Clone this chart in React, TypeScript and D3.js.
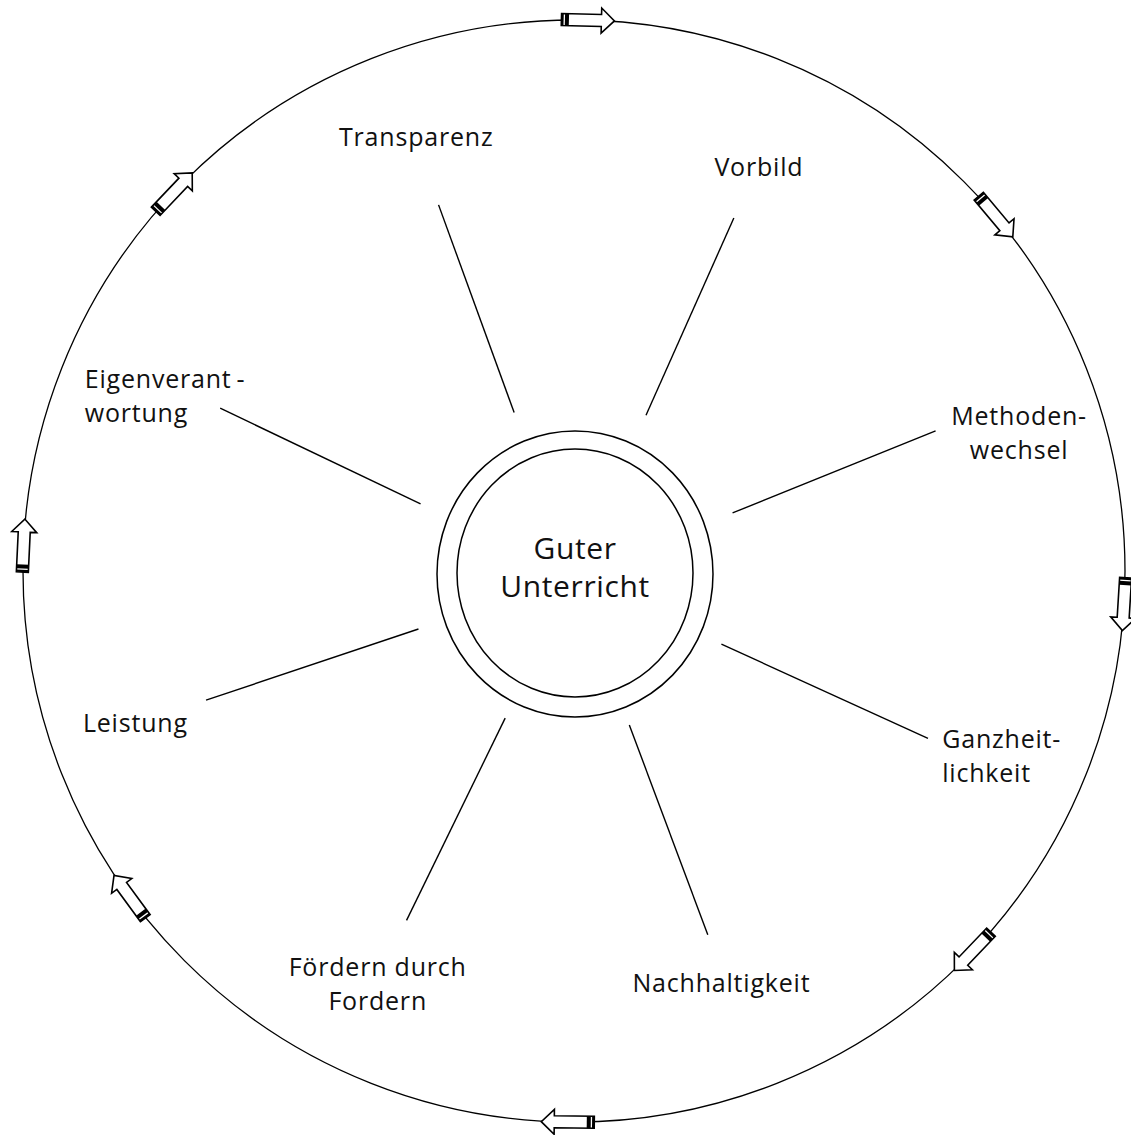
import React from 'react';
import * as d3 from 'd3';

// categories around the hub, clockwise from top
const labelLines: string[][] = [
  ['Transparenz'],
  ['Vorbild'],
  ['Methoden-', 'wechsel'],
  ['Ganzheit-', 'lichkeit'],
  ['Nachhaltigkeit'],
  ['Fördern durch', 'Fordern'],
  ['Leistung'],
  ['Eigenverant\u2009-', 'wortung'],
];
const centerTitle = ['Guter', 'Unterricht'];

// spoke directions (degrees, clockwise from north) and radial extents
const spokeAngles = [-20, 24, 68, 114.5, 159.5, 206, 251.5, 295.5];
const spokeInner = [175, 177, 171, 162, 158, 157, 164, 170];
const spokeOuter = [396, 393, 390, 389, 382, 382, 388, 392];

// arrows on the outer ring
const arrowAngles = [1.5, 50, 93.5, 133.7, 180.7, 233.8, 272.7, 313.5];

// label layout: polar anchor point + text anchor
const labelLayout = [
  { a: -19.7, r: 468, anchor: 'middle' },
  { a: 24.2, r: 451, anchor: 'middle' },
  { a: 72, r: 468, anchor: 'middle' },
  { a: 115.8, r: 409, anchor: 'start' },
  { a: 160, r: 431, anchor: 'middle' },
  { a: 205.8, r: 451, anchor: 'middle' },
  { a: 251.7, r: 462, anchor: 'middle' },
  { a: 290.4, r: 522, anchor: 'start' },
];

const W = 1131;
const H = 1135;
const cx = 574;
const cy = 577;
const ring = { cx: 574, cy: 571, r: 551 };
const FONT = "'Open Sans', 'DejaVu Sans', sans-serif";

const toRad = d3.scaleLinear().domain([0, 360]).range([0, 2 * Math.PI]);
const polar = (deg: number, r: number, ox = cx, oy = cy) => {
  const [x, y] = d3.pointRadial(toRad(deg), r);
  return [ox + x, oy + y];
};

const arrowPts: [number, number][] = [
  [-27, -6], [13, -6], [13, -12.5], [26, 0], [13, 12.5], [13, 6], [-27, 6],
];
const arrowPath = d3.line()(arrowPts) + 'Z';

export default function App() {
  return (
    <svg width={W} height={H} style={{ position: 'absolute', left: 0, top: 0, background: '#fff' }}>
      <circle cx={ring.cx} cy={ring.cy} r={ring.r} fill="none" stroke="#000" strokeWidth={1.3} />

      {arrowAngles.map((a, i) => {
        const [x, y] = polar(a, ring.r, ring.cx, ring.cy);
        return (
          <g key={i} transform={`translate(${x},${y}) rotate(${a})`}>
            <path d={arrowPath} fill="#fff" stroke="#000" strokeWidth={1.6} strokeLinejoin="miter" />
            <rect x={-27} y={-6} width={2.2} height={12} fill="#000" />
            <rect x={-23.5} y={-6} width={4} height={12} fill="#000" />
          </g>
        );
      })}

      {spokeAngles.map((a, i) => {
        const [x1, y1] = polar(a, spokeInner[i]);
        const [x2, y2] = polar(a, spokeOuter[i]);
        return <line key={i} x1={x1} y1={y1} x2={x2} y2={y2} stroke="#000" strokeWidth={1.4} />;
      })}

      <ellipse cx={575} cy={574} rx={138} ry={143} fill="none" stroke="#000" strokeWidth={1.5} />
      <ellipse cx={575} cy={573} rx={118} ry={124} fill="none" stroke="#000" strokeWidth={1.5} />

      {labelLines.map((lines, i) => {
        const L = labelLayout[i];
        const [x, y] = polar(L.a, L.r);
        const lh = 34;
        return (
          <text key={i} fontFamily={FONT} fontSize={25} letterSpacing={0.8} fill="#111" textAnchor={L.anchor}>
            {lines.map((t, j) => (
              <tspan key={j} x={x} y={y + (j - (lines.length - 1) / 2) * lh} dominantBaseline="central">
                {t}
              </tspan>
            ))}
          </text>
        );
      })}

      <text fontFamily={FONT} fontSize={30} letterSpacing={0.6} fill="#111" textAnchor="middle">
        {centerTitle.map((t, j) => (
          <tspan key={j} x={575} y={547 + j * 38} dominantBaseline="central">
            {t}
          </tspan>
        ))}
      </text>
    </svg>
  );
}
